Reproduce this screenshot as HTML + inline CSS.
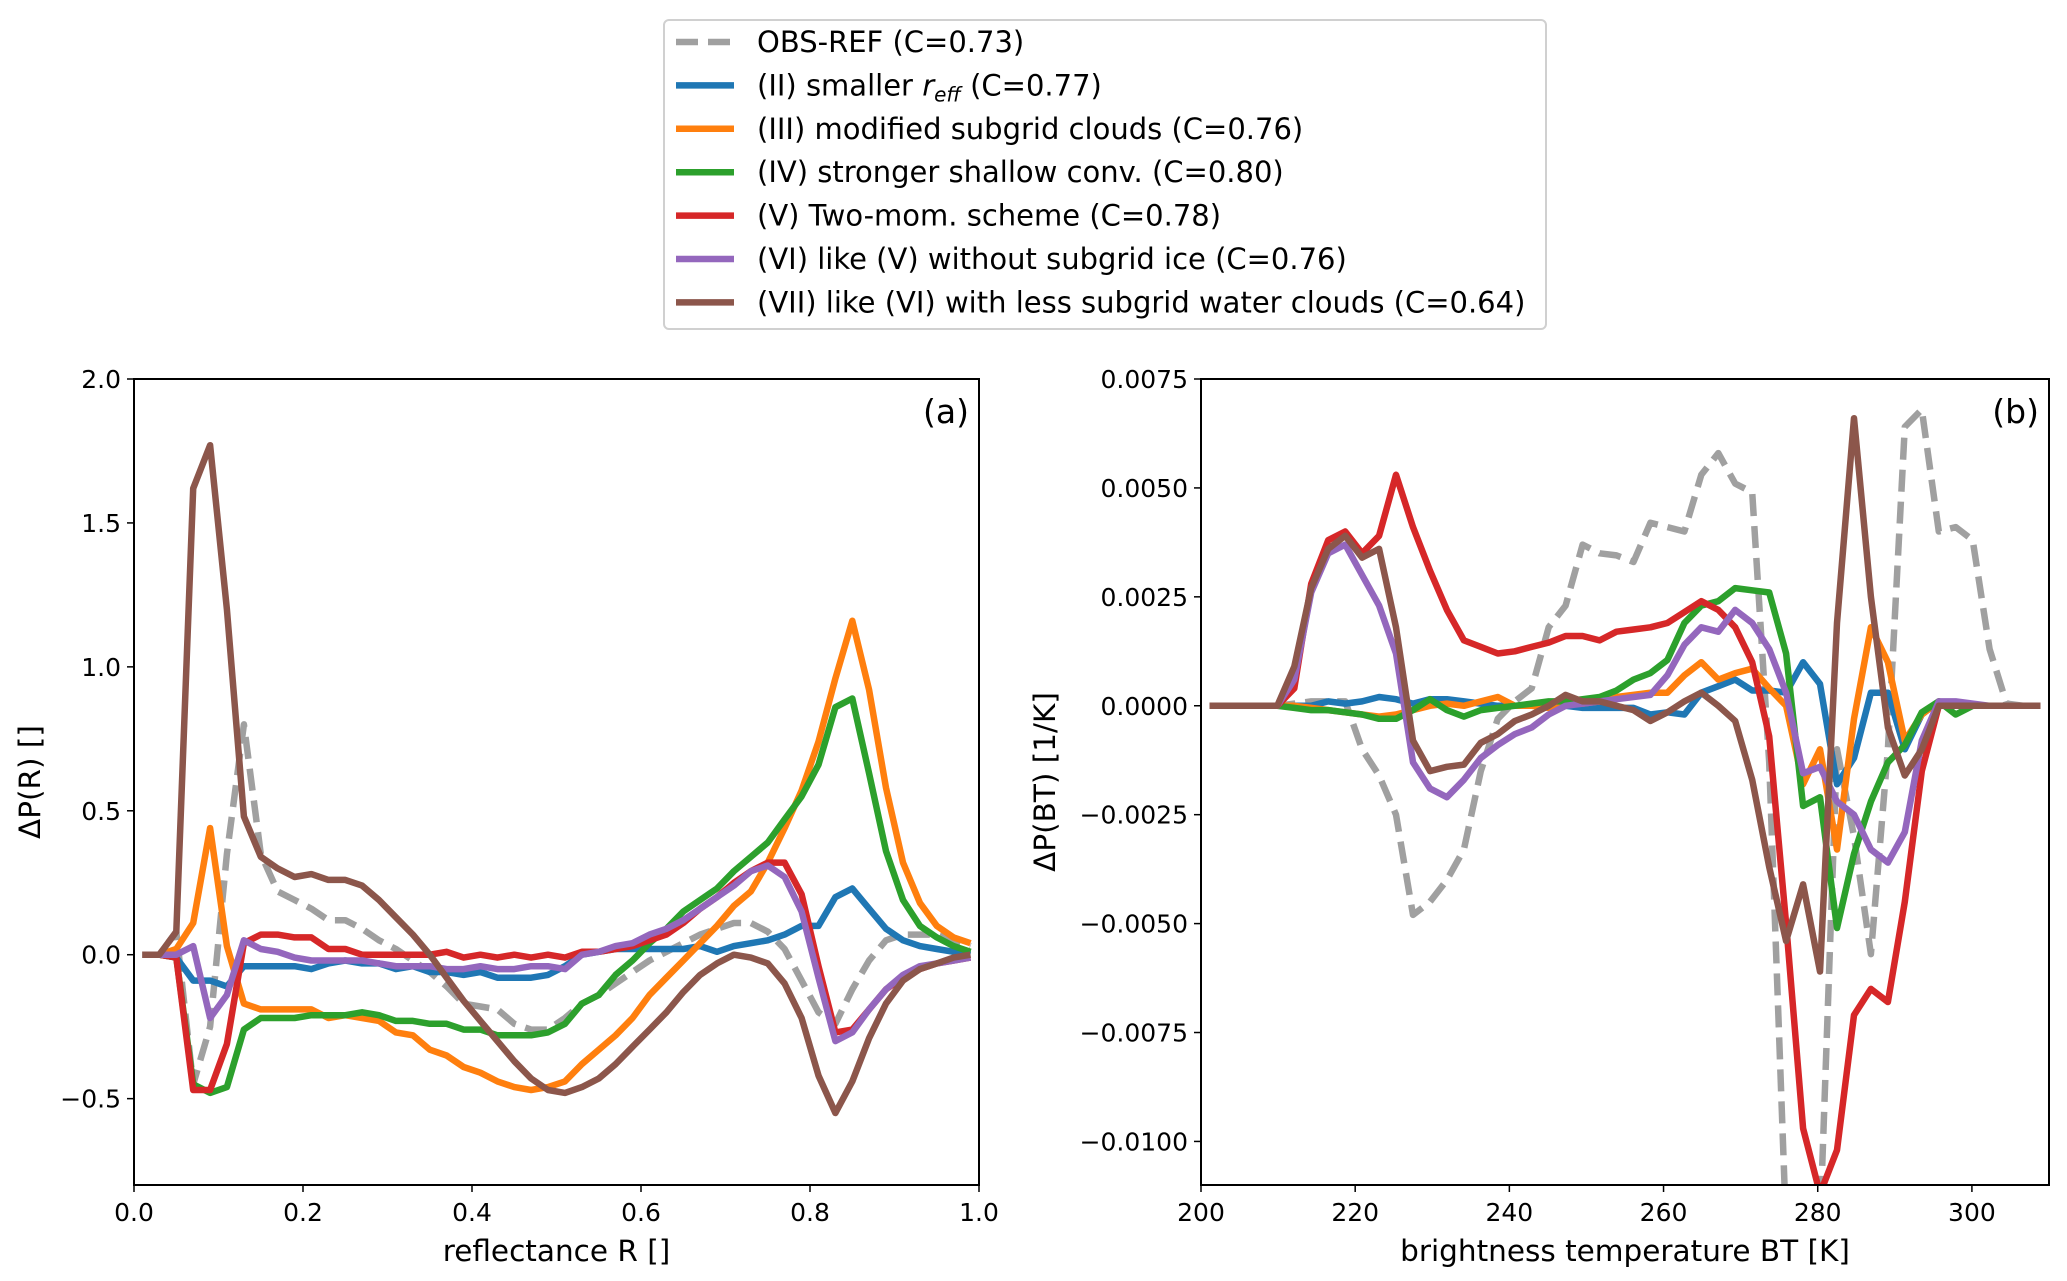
<!DOCTYPE html>
<html><head><meta charset="utf-8">
<style>
html,body{margin:0;padding:0;background:#fff;}
svg{display:block;font-family:"DejaVu Sans","Liberation Sans",sans-serif;}
</style></head>
<body>
<svg id="chart" width="2067" height="1281" viewBox="0 0 2067 1281" xmlns="http://www.w3.org/2000/svg">
<g id="legend"></g>
<g id="panelA"></g>
<g id="panelB"></g>
</svg>
<script>
// ---------- data ----------
const seriesNames = ["OBS-REF","II","III","IV","V","VI","VII"];
const seriesColors = ["#a0a0a0","#1f77b4","#ff7f0e","#2ca02c","#d62728","#9467bd","#8c564b"];
const legendLabels = ["OBS-REF (C=0.73)","(II) smaller r_eff (C=0.77)","(III) modified subgrid clouds (C=0.76)","(IV) stronger shallow conv. (C=0.80)","(V) Two-mom. scheme (C=0.78)","(VI) like (V) without subgrid ice (C=0.76)","(VII) like (VI) with less subgrid water clouds (C=0.64)"];

const xTicksA = [0,0.2,0.4,0.6,0.8,1.0];
const xTickLabelsA = ["0.0","0.2","0.4","0.6","0.8","1.0"];
const yTicksA = [-0.5,0,0.5,1.0,1.5,2.0];
const yTickLabelsA = ["\u22120.5","0.0","0.5","1.0","1.5","2.0"];
const xTicksB = [200,220,240,260,280,300];
const xTickLabelsB = ["200","220","240","260","280","300"];
const yTicksB = [-0.01,-0.0075,-0.005,-0.0025,0,0.0025,0.005,0.0075];
const yTickLabelsB = ["\u22120.0100","\u22120.0075","\u22120.0050","\u22120.0025","0.0000","0.0025","0.0050","0.0075"];

// Panel (a): 50 bins in reflectance
const aObs = [0,0,0.08,-0.45,-0.25,0.35,0.80,0.35,0.22,0.19,0.16,0.12,0.12,0.09,0.05,0.02,-0.02,-0.06,-0.11,-0.17,-0.18,-0.19,-0.24,-0.26,-0.26,-0.22,-0.17,-0.14,-0.10,-0.06,-0.02,0.01,0.04,0.07,0.09,0.11,0.11,0.08,0.02,-0.09,-0.20,-0.24,-0.12,-0.02,0.05,0.07,0.07,0.07,0.05,0.03];
const aII = [0,0,-0.01,-0.09,-0.09,-0.11,-0.04,-0.04,-0.04,-0.04,-0.05,-0.03,-0.02,-0.03,-0.03,-0.05,-0.04,-0.06,-0.06,-0.07,-0.06,-0.08,-0.08,-0.08,-0.07,-0.04,0.0,0.01,0.02,0.02,0.02,0.02,0.02,0.03,0.01,0.03,0.04,0.05,0.07,0.10,0.10,0.20,0.23,0.16,0.09,0.05,0.03,0.02,0.01,0.0];
const aIII = [0,0,0.02,0.11,0.44,0.03,-0.17,-0.19,-0.19,-0.19,-0.19,-0.22,-0.21,-0.22,-0.23,-0.27,-0.28,-0.33,-0.35,-0.39,-0.41,-0.44,-0.46,-0.47,-0.46,-0.44,-0.38,-0.33,-0.28,-0.22,-0.14,-0.08,-0.02,0.04,0.10,0.17,0.22,0.32,0.44,0.57,0.74,0.96,1.16,0.92,0.58,0.32,0.18,0.10,0.06,0.04];
const aIV = [0,0,-0.01,-0.45,-0.48,-0.46,-0.26,-0.22,-0.22,-0.22,-0.21,-0.21,-0.21,-0.20,-0.21,-0.23,-0.23,-0.24,-0.24,-0.26,-0.26,-0.28,-0.28,-0.28,-0.27,-0.24,-0.17,-0.14,-0.07,-0.02,0.04,0.09,0.15,0.19,0.23,0.29,0.34,0.39,0.47,0.55,0.66,0.86,0.89,0.63,0.36,0.19,0.10,0.06,0.03,0.01];
const aV = [0,0,-0.01,-0.47,-0.47,-0.31,0.04,0.07,0.07,0.06,0.06,0.02,0.02,0.0,0.0,0.0,0.0,0.0,0.01,-0.01,0.0,-0.01,0.0,-0.01,0.0,-0.01,0.01,0.01,0.02,0.03,0.05,0.07,0.11,0.16,0.20,0.25,0.29,0.32,0.32,0.21,-0.04,-0.27,-0.26,-0.19,-0.12,-0.08,-0.05,-0.03,-0.02,-0.01];
const aVI = [0,0,0.0,0.03,-0.22,-0.14,0.05,0.02,0.01,-0.01,-0.02,-0.02,-0.02,-0.02,-0.03,-0.04,-0.04,-0.04,-0.05,-0.05,-0.04,-0.05,-0.05,-0.04,-0.04,-0.05,0.0,0.01,0.03,0.04,0.07,0.09,0.12,0.16,0.20,0.24,0.29,0.31,0.27,0.15,-0.08,-0.30,-0.27,-0.19,-0.12,-0.07,-0.04,-0.03,-0.02,-0.01];
const aVII = [0,0,0.08,1.62,1.77,1.2,0.48,0.34,0.30,0.27,0.28,0.26,0.26,0.24,0.19,0.13,0.07,0.0,-0.08,-0.16,-0.23,-0.30,-0.37,-0.43,-0.47,-0.48,-0.46,-0.43,-0.38,-0.32,-0.26,-0.20,-0.13,-0.07,-0.03,0.0,-0.01,-0.03,-0.10,-0.22,-0.42,-0.55,-0.44,-0.29,-0.17,-0.09,-0.05,-0.03,-0.01,0.0];

// Panel (b): 50 bins 200-310 K, values in units of 1e-3 per K
const bObs = [0,0,0,0,0,0.05,0.1,0.1,0.1,-1.0,-1.6,-2.5,-4.8,-4.5,-4.0,-3.3,-1.5,-0.3,0.1,0.4,1.8,2.3,3.7,3.5,3.45,3.3,4.2,4.1,4.0,5.3,5.8,5.1,4.9,-1.3,-12,-12,-12,-1.0,-3.0,-5.7,-1.0,6.4,6.8,4.0,4.1,3.8,1.3,0.05,0,0];
const bII = [0,0,0,0,0,0,0,0.1,0.05,0.1,0.2,0.15,0.05,0.15,0.15,0.1,0.05,0,0,0,0.05,0,-0.05,-0.05,-0.05,-0.05,-0.2,-0.15,-0.2,0.3,0.45,0.6,0.35,0.35,0.3,1.0,0.5,-1.8,-1.2,0.3,0.3,-1.0,-0.2,0.1,0,0,0,0,0,0];
const bIII = [0,0,0,0,0,0,-0.05,-0.1,-0.15,-0.2,-0.25,-0.2,-0.1,0,0.05,0,0.1,0.2,0,0,-0.05,0.1,0.05,0.1,0.2,0.25,0.3,0.3,0.7,1.0,0.6,0.75,0.85,0.4,0,-1.8,-1.0,-3.3,-0.3,1.8,1.0,-0.8,-0.2,0.1,0,0,0,0,0,0];
const bIV = [0,0,0,0,0,-0.05,-0.1,-0.1,-0.15,-0.2,-0.3,-0.3,-0.1,0.15,-0.1,-0.25,-0.1,-0.05,0,0.05,0.1,0.1,0.15,0.2,0.35,0.6,0.75,1.05,1.9,2.3,2.4,2.7,2.65,2.6,1.2,-2.3,-2.1,-5.1,-3.4,-2.2,-1.3,-0.9,-0.15,0.1,-0.2,0,0,0,0,0];
const bV = [0,0,0,0,0,0.4,2.8,3.8,4.0,3.5,3.9,5.3,4.1,3.1,2.2,1.5,1.35,1.2,1.25,1.35,1.45,1.6,1.6,1.5,1.7,1.75,1.8,1.9,2.15,2.4,2.2,1.8,1.0,-0.7,-5.0,-9.7,-11.2,-10.2,-7.1,-6.5,-6.8,-4.5,-1.5,0,0,0,0,0,0,0];
const bVI = [0,0,0,0,0,0.6,2.6,3.5,3.7,3.0,2.3,1.2,-1.3,-1.9,-2.1,-1.7,-1.2,-0.9,-0.65,-0.5,-0.2,0,0.05,0.1,0.15,0.2,0.25,0.7,1.4,1.8,1.7,2.2,1.9,1.3,0.3,-1.55,-1.4,-2.2,-2.5,-3.3,-3.6,-2.9,-0.8,0.1,0.1,0.05,0,0,0,0];
const bVII = [0,0,0,0,0,0.9,2.7,3.6,3.9,3.4,3.6,1.8,-0.8,-1.5,-1.4,-1.35,-0.85,-0.65,-0.35,-0.2,0,0.25,0.1,0.1,0,-0.1,-0.35,-0.15,0.1,0.3,0,-0.35,-1.7,-3.7,-5.4,-4.1,-6.1,1.9,6.6,2.5,-0.5,-1.6,-1.0,0,0,0,0,0,0,0];

const aSeries = [aObs,aII,aIII,aIV,aV,aVI,aVII];
const bSeries = [bObs,bII,bIII,bIV,bV,bVI,bVII];

// ---------- drawing ----------
const NS = "http://www.w3.org/2000/svg";
function mk(tag, parent){ const e=document.createElementNS(NS,tag); parent.appendChild(e); return e; }

function drawPanel(g, cfg){
  const {x0,x1,y0,y1,xmin,xmax,ymin,ymax} = cfg;
  const sx = v => x0 + (v-xmin)/(xmax-xmin)*(x1-x0);
  const sy = v => y1 - (v-ymin)/(ymax-ymin)*(y1-y0);
  const cp = mk("clipPath", g); cp.setAttribute("id", cfg.id+"-clip");
  const cr = mk("rect", cp); cr.setAttribute("x",x0); cr.setAttribute("y",y0); cr.setAttribute("width",x1-x0); cr.setAttribute("height",y1-y0);
  const lines = mk("g", g); lines.setAttribute("clip-path","url(#"+cfg.id+"-clip)");
  
  
  cfg.series.forEach((arr,si)=>{
    const n = arr.length;
    const pts = arr.map((v,i)=>{ const xv = xmin + (i+0.5)*(xmax-xmin)/n; return sx(xv).toFixed(1)+","+sy(v*cfg.scale).toFixed(1); });
    const pl = mk("polyline", lines);
    pl.setAttribute("points", pts.join(" "));
    pl.setAttribute("fill","none");
    pl.setAttribute("stroke", seriesColors[si]);
    pl.setAttribute("stroke-width", "6.5");
    pl.setAttribute("stroke-linejoin","round");
    if(si===0) pl.setAttribute("stroke-dasharray","22,10");
    
    
  });
  const frame = mk("rect", g);
  frame.setAttribute("x",x0); frame.setAttribute("y",y0); frame.setAttribute("width",x1-x0); frame.setAttribute("height",y1-y0);
  frame.setAttribute("fill","none"); frame.setAttribute("stroke","#000"); frame.setAttribute("stroke-width","2");
  
  
  cfg.xt.forEach((t,i)=>{
    const x = sx(t);
    const tk = mk("line", g); tk.setAttribute("x1",x); tk.setAttribute("x2",x); tk.setAttribute("y1",y1); tk.setAttribute("y2",y1+7); tk.setAttribute("stroke","#000"); tk.setAttribute("stroke-width","1.5");
    
    
    const tx = mk("text", g); tx.setAttribute("x",x); tx.setAttribute("y",y1+36); tx.setAttribute("text-anchor","middle"); tx.setAttribute("font-size","25"); tx.textContent = cfg.xl[i];
    
    
  });
  cfg.yt.forEach((t,i)=>{
    const y = sy(t);
    const tk = mk("line", g); tk.setAttribute("x1",x0-7); tk.setAttribute("x2",x0); tk.setAttribute("y1",y); tk.setAttribute("y2",y); tk.setAttribute("stroke","#000"); tk.setAttribute("stroke-width","1.5");
    
    
    const tx = mk("text", g); tx.setAttribute("x",x0-13); tx.setAttribute("y",y+9); tx.setAttribute("text-anchor","end"); tx.setAttribute("font-size","25"); tx.textContent = cfg.yl[i];
    
    
  });
  const xt = mk("text", g); xt.setAttribute("x",(x0+x1)/2); xt.setAttribute("y",y1+76); xt.setAttribute("text-anchor","middle"); xt.setAttribute("font-size","29.5"); xt.textContent = cfg.xtitle;
  
  
  const yt = mk("text", g); yt.setAttribute("transform","translate("+cfg.ytx+","+((y0+y1)/2)+") rotate(-90)"); yt.setAttribute("text-anchor","middle"); yt.setAttribute("font-size","29.5"); yt.textContent = cfg.ytitle;
  
  
  const pl = mk("text", g); pl.setAttribute("x",x1-10); pl.setAttribute("y",y0+44); pl.setAttribute("text-anchor","end"); pl.setAttribute("font-size","33"); pl.textContent = cfg.label;
  
  
}

drawPanel(document.getElementById("panelA"), {id:"pa", x0:134,x1:979,y0:379,y1:1185,xmin:0,xmax:1,ymin:-0.8,ymax:2.0,
  series:aSeries, scale:1, xt:xTicksA, xl:xTickLabelsA, yt:yTicksA, yl:yTickLabelsA,
  xtitle:"reflectance R []", ytitle:"\u0394P(R) []", ytx:40, label:"(a)"});
drawPanel(document.getElementById("panelB"), {id:"pb", x0:1201,x1:2049,y0:379,y1:1185,xmin:200,xmax:310,ymin:-0.011,ymax:0.0075,
  series:bSeries, scale:0.001, xt:xTicksB, xl:xTickLabelsB, yt:yTicksB, yl:yTickLabelsB,
  xtitle:"brightness temperature BT [K]", ytitle:"\u0394P(BT) [1/K]", ytx:1055, label:"(b)"});

// legend
const lg = document.getElementById("legend");
const box = mk("rect", lg);
box.setAttribute("x",664); box.setAttribute("y",20); box.setAttribute("width",882); box.setAttribute("height",309); box.setAttribute("rx",5);
box.setAttribute("fill","#fff"); box.setAttribute("stroke","#d0d0d0"); box.setAttribute("stroke-width","2");


legendLabels.forEach((lab,i)=>{
  const y = 42 + i*43.4;
  const ln = mk("line", lg); ln.setAttribute("x1",676); ln.setAttribute("x2",734); ln.setAttribute("y1",y); ln.setAttribute("y2",y);
  ln.setAttribute("stroke",seriesColors[i]); ln.setAttribute("stroke-width","6.5");
  if(i===0) ln.setAttribute("stroke-dasharray","22,10");
  
  
  const t = mk("text", lg); t.setAttribute("x",757); t.setAttribute("y",y+10); t.setAttribute("font-size","29");
  
  
  if(lab.indexOf("r_eff")>=0){
    const parts = lab.split("r_eff");
    const s1 = mk("tspan", t); s1.textContent = parts[0];
    const s2 = mk("tspan", t); s2.setAttribute("font-style","italic"); s2.textContent = "r";
    const s3 = mk("tspan", t); s3.setAttribute("font-style","italic"); s3.setAttribute("font-size","20"); s3.setAttribute("dy","6"); s3.textContent = "eff";
    const s4 = mk("tspan", t); s4.setAttribute("dy","-6"); s4.textContent = parts[1];
  } else t.textContent = lab;
});
</script>
</body></html>
